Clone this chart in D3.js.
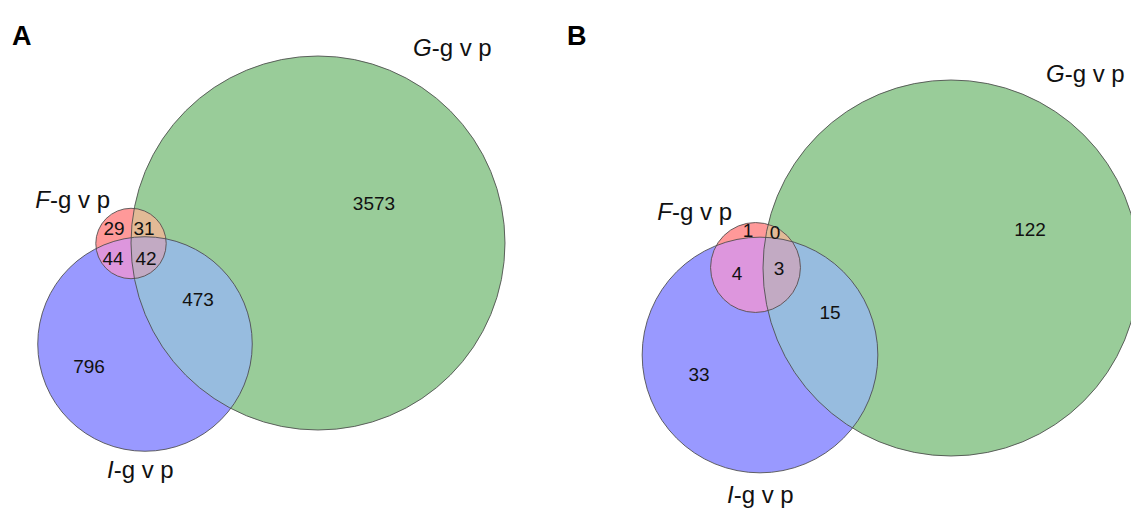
<!DOCTYPE html>
<html>
<head>
<meta charset="utf-8">
<script src="https://cdn.jsdelivr.net/npm/d3@7"></script>
<style>
  html, body { margin: 0; padding: 0; background: #fff; }
  svg { display: block; font-family: "Liberation Sans", Arial, sans-serif; }
</style>
</head>
<body>
<div id="chart"></div>
<script>
'use strict';

// data
var panelNames = ['A', 'B'];
var setKeys = ['G', 'I', 'F'];
var setLetters = ['G', 'I', 'F'];
var regionKeys = ['G', 'I', 'F', 'GI', 'FG', 'FI', 'FGI'];
var countsA = [3573, 796, 29, 473, 31, 44, 42];
var countsB = [122, 33, 1, 15, 0, 4, 3];

// layout (pixels)
var W = 1131, H = 509;
var layouts = [
    {
        x: 0, tagX: 12, tagY: 45, maxR: 187,
        centers: { G: [318, 243], I: [145, 344], F: [131, 243.5] },
        setLabel: { G: [413, 56, 'start'], I: [107, 478, 'start'], F: [110, 208, 'end'] },
        regionPos: { G: [374, 210], I: [89, 373], F: [114, 235], GI: [198, 306], FG: [144, 235], FI: [113, 265], FGI: [146, 265] }
    },
    {
        x: 0, tagX: 567, tagY: 45, maxR: 188,
        centers: { G: [951, 268], I: [760, 355], F: [755.5, 267.5] },
        setLabel: { G: [1046, 82, 'start'], I: [727, 503, 'start'], F: [732, 220, 'end'] },
        regionPos: { G: [1030, 236], I: [699, 381], F: [748, 237], GI: [830, 319], FG: [775, 239], FI: [737, 280], FGI: [779, 275] }
    }
];

var colors = {
    G: '#99cc99', I: '#9999ff', F: '#ff9999',
    GI: '#97bcdf', FG: '#e2ba96', FI: '#dd96dd', FGI: '#c2aac3'
};

var svg = d3.select('#chart').append('svg')
    .attr('width', W)
    .attr('height', H);
var defs = svg.append('defs');

function setTotal(counts, key) {
    return regionKeys.reduce(function(s, k, i) {
        return k.indexOf(key) >= 0 ? s + counts[i] : s;
    }, 0);
}

[countsA, countsB].forEach(function(counts, p) {
    var lay = layouts[p];
    var totals = setKeys.map(function(k) { return setTotal(counts, k); });
    var r = d3.scaleSqrt()
        .domain([0, d3.max(totals)])
        .range([0, lay.maxR]);

    var circles = setKeys.map(function(k, i) {
        return { key: k, cx: lay.centers[k][0], cy: lay.centers[k][1], r: r(totals[i]) };
    });
    var byKey = {};
    circles.forEach(function(c) { byKey[c.key] = c; });

    // clip paths for each circle
    circles.forEach(function(c) {
        defs.append('clipPath')
            .attr('id', 'clip' + p + c.key)
            .append('circle')
            .attr('cx', c.cx).attr('cy', c.cy).attr('r', c.r);
    });

    var g = svg.append('g');

    // single-set fills
    g.selectAll('circle.base')
        .data(circles)
        .enter()
        .append('circle')
        .attr('class', 'base')
        .attr('cx', function(d) { return d.cx; })
        .attr('cy', function(d) { return d.cy; })
        .attr('r', function(d) { return d.r; })
        .attr('fill', function(d) { return colors[d.key]; });

    // overlaps: draw circle a clipped by the others
    var overlaps = [
        { key: 'GI', draw: 'I', clips: ['G'] },
        { key: 'FG', draw: 'F', clips: ['G'] },
        { key: 'FI', draw: 'F', clips: ['I'] },
        { key: 'FGI', draw: 'F', clips: ['G', 'I'] }
    ];
    overlaps.forEach(function(o) {
        var holder = g;
        o.clips.forEach(function(ck) {
            holder = holder.append('g').attr('clip-path', 'url(#clip' + p + ck + ')');
        });
        var c = byKey[o.draw];
        holder.append('circle')
            .attr('cx', c.cx).attr('cy', c.cy).attr('r', c.r)
            .attr('fill', colors[o.key]);
    });

    // outlines
    g.selectAll('circle.edge')
        .data(circles)
        .enter()
        .append('circle')
        .attr('class', 'edge')
        .attr('cx', function(d) { return d.cx; })
        .attr('cy', function(d) { return d.cy; })
        .attr('r', function(d) { return d.r; })
        .attr('fill', 'none')
        .attr('stroke', '#4a4a4a')
        .attr('stroke-opacity', 0.85)
        .attr('stroke-width', 1);

    // region counts
    g.selectAll('text.count')
        .data(regionKeys.map(function(k, i) { return { key: k, n: counts[i] }; }))
        .enter()
        .append('text')
        .attr('class', 'count')
        .attr('x', function(d) { return lay.regionPos[d.key][0]; })
        .attr('y', function(d) { return lay.regionPos[d.key][1]; })
        .attr('text-anchor', 'middle')
        .attr('font-size', 19)
        .attr('fill', '#111')
        .text(function(d) { return d.n; });

    // set labels
    setKeys.forEach(function(k, i) {
        var pos = lay.setLabel[k];
        var t = g.append('text')
            .attr('x', pos[0])
            .attr('y', pos[1])
            .attr('text-anchor', pos[2])
            .attr('font-size', 24)
            .attr('fill', '#111');
        t.append('tspan').attr('font-style', 'italic').text(setLetters[i]);
        t.append('tspan').text('-g v p');
    });

    // panel tag
    g.append('text')
        .attr('x', lay.tagX)
        .attr('y', lay.tagY)
        .attr('font-size', 27)
        .attr('font-weight', 'bold')
        .attr('fill', '#000')
        .text(panelNames[p]);
});
</script>
</body>
</html>
